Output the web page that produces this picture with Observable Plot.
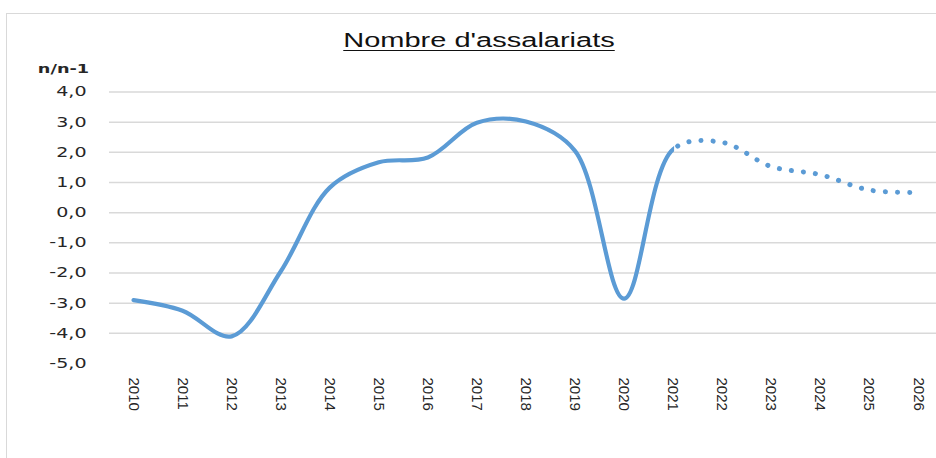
<!DOCTYPE html>
<html>
<head>
<meta charset="utf-8">
<script src="https://cdn.jsdelivr.net/npm/d3@7"></script>
<script src="https://cdn.jsdelivr.net/npm/@observablehq/plot@0.6"></script>
<style>
  html, body { margin: 0; padding: 0; background: #fff; }
  body { width: 936px; height: 458px; overflow: hidden; position: relative; font-family: "Liberation Sans", Arial, sans-serif; }
  #frame { position: absolute; left: 6px; top: 13px; width: 1000px; height: 1000px; border: 1.5px solid #d9d9d9; box-sizing: border-box; }
  #title { position: absolute; left: 479px; top: 30px; line-height: 20px; font-size: 20px; color: #111; white-space: nowrap;
           text-decoration: underline; text-underline-offset: 3px; text-decoration-thickness: 1.2px;
           transform: translateX(-50%) scaleX(1.45); transform-origin: center; }
  #chart { position: absolute; left: 0; top: 56px; }
</style>
</head>
<body>
<div id="frame"></div>
<div id="title">Nombre d'assalariats</div>
<div id="chart"></div>
<script>
// ---- data ----
const years = [2010, 2011, 2012, 2013, 2014, 2015, 2016, 2017, 2018, 2019, 2020, 2021, 2022, 2023, 2024, 2025, 2026];
const values = [-2.9, -3.25, -4.1, -1.95, 0.83, 1.67, 1.83, 2.98, 3.02, 2.05, -2.85, 2.1, 2.33, 1.53, 1.26, 0.75, 0.67];
const lastObservedYear = 2021; // after this the series is a forecast (dotted)
const yTicks = [-5, -4, -3, -2, -1, 0, 1, 2, 3, 4];
const gridValues = [-4, -3, -2, -1, 0, 1, 2, 3, 4];
const yAxisLabel = ["n/n-1"];

const data = years.map((year, i) => ({year, value: values[i]}));
const fmt = d => d.toFixed(1).replace(".", ",");

const W = 936, H = 402;
const plot = Plot.plot({
  width: W,
  height: H,
  marginLeft: 109,
  marginRight: 0,
  marginTop: 35.5,
  marginBottom: 95,
  style: {background: "transparent", color: "#262626", overflow: "visible"},
  x: {type: "linear", domain: [2009.51, 2026.37]},
  y: {domain: [-5, 4]},
  marks: [
    Plot.ruleY(gridValues, {stroke: "#d9d9d9", strokeWidth: 1.5}),
    Plot.axisY(yTicks, {tickSize: 0, tickPadding: 23, tickFormat: fmt, fontSize: 14, fontFamily: "DejaVu Sans", fontWeight: "normal", label: null}),
    Plot.axisX(years, {tickSize: 0, tickPadding: 14, tickRotate: 90, tickFormat: d => String(d), fontSize: 15, fontFamily: "Liberation Sans", label: null}),
    Plot.text(yAxisLabel, {frameAnchor: "top-left", dx: -46, dy: -28.5, text: d => d, fontWeight: "bold", fontSize: 13, fontFamily: "DejaVu Sans", fill: "#262626", textAnchor: "middle"}),
    Plot.line(data, {x: "year", y: "value", curve: "catmull-rom", stroke: "#5b9bd5", strokeWidth: 4.2, strokeLinecap: "round", strokeLinejoin: "round"}),
    Plot.line(data, {x: "year", y: "value", curve: "catmull-rom", stroke: "#5b9bd5", strokeWidth: 5, strokeLinecap: "round", strokeDasharray: "0.1 12"})
  ]
});
document.getElementById("chart").appendChild(plot);

// split the one smooth curve into a solid (observed) and dotted (forecast) part at the last observed year
const xs = plot.scale("x");
const xCut = xs.apply(lastObservedYear);
const ns = "http://www.w3.org/2000/svg";
const defs = document.createElementNS(ns, "defs");
function clip(id, x0, x1) {
  const cp = document.createElementNS(ns, "clipPath");
  cp.setAttribute("id", id);
  const r = document.createElementNS(ns, "rect");
  r.setAttribute("x", x0); r.setAttribute("y", -100);
  r.setAttribute("width", x1 - x0); r.setAttribute("height", H + 200);
  cp.appendChild(r); defs.appendChild(cp);
}
clip("solidClip", 0, xCut + 1);
clip("dotClip", xCut + 1, W + 50);
plot.insertBefore(defs, plot.firstChild);
const lines = plot.querySelectorAll('g[aria-label="line"]');
if (lines[0]) lines[0].setAttribute("clip-path", "url(#solidClip)");
if (lines[1]) lines[1].setAttribute("clip-path", "url(#dotClip)");

// widen y labels and the axis label horizontally like the reference
plot.querySelectorAll("text").forEach(t => {
  const s = t.textContent;
  if (/^-?\d,0$/.test(s) || s === "n/n-1") {
    const len = t.getComputedTextLength();
    t.setAttribute("textLength", (len * 1.36).toFixed(1));
    t.setAttribute("lengthAdjust", "spacingAndGlyphs");
  }
});
</script>
</body>
</html>
